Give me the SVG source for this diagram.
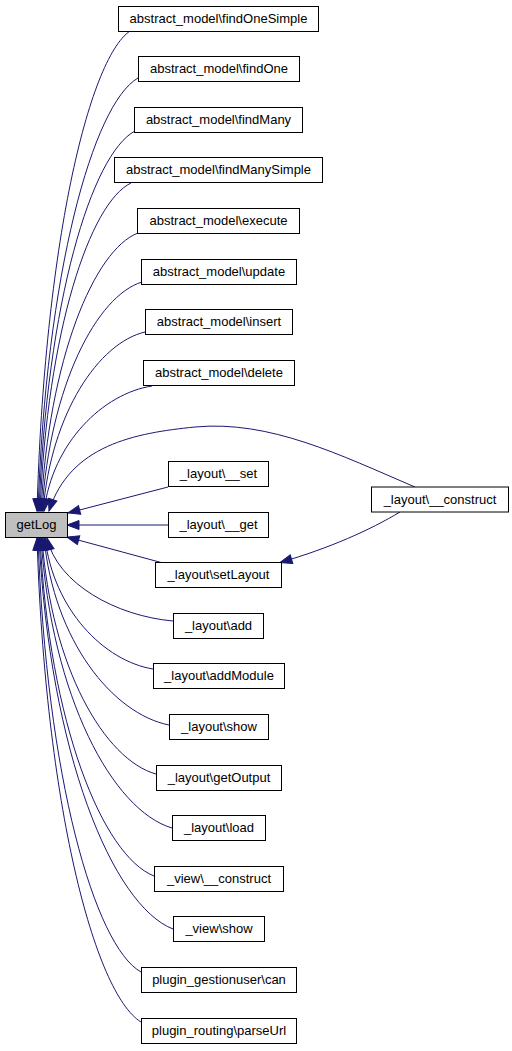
<svg xmlns="http://www.w3.org/2000/svg" width="512" height="1051" viewBox="0 0 512 1051">
<style>
.n rect{fill:#fff;stroke:#000;stroke-width:1}
.n text{font-family:"Liberation Sans",Arial,sans-serif;font-size:13px;text-anchor:middle;fill:#000}
#getLog rect{fill:#bfbfbf}
.e path{fill:none;stroke:#191970;stroke-width:1;marker-end:url(#ah)}
</style>
<defs>
<marker id="ah" markerWidth="13" markerHeight="10" refX="12" refY="4.5" orient="auto" markerUnits="userSpaceOnUse" overflow="visible">
<path d="M0,0 L12,4.5 L0,9 z" fill="#191970" stroke="#191970" stroke-width="1"/>
</marker>
</defs>
<rect width="512" height="1051" fill="#fff"/>
<g id="connectors" class="e">
<path d="M130,31 C88.2,59.8 44.4,247 37,511"/>
<path d="M138,78 C93,104 46,272.9 38,511"/>
<path d="M135,131 C91.8,153.8 46.7,302 39,511"/>
<path d="M131,183 C90,202.7 47.3,330.6 40,511"/>
<path d="M138,233 C94.4,249.7 48.8,358.1 41,511"/>
<path d="M142,282 C97,295.7 50,385 42,511"/>
<path d="M145,332 C99.1,342.7 51.2,412.5 43,511"/>
<path d="M152,386 C103.4,393.5 52.6,442.3 44,511"/>
<path d="M415,487 C340,455 270,420 195,427 C135,433 70,445 49,511"/>
<path d="M168,487 L68,513"/>
<path d="M168,525 L67,525"/>
<path d="M163,563 L67,537"/>
<path d="M173,621 C116.3,616 57.1,583.7 47,538"/>
<path d="M153,669 C104.4,661.1 53.6,610 45,538"/>
<path d="M169,725 C112.75,713.8 54,640.9 44,538"/>
<path d="M156,774 C104.7,759.8 51.1,667.8 42,538"/>
<path d="M172,828 C113,810.6 51.5,697.5 41,538"/>
<path d="M154,876 C102.7,855.7 49.1,723.9 40,538"/>
<path d="M173,929 C112.7,905.5 49.7,753 39,538"/>
<path d="M141,972 C94.65,946 46.2,776.7 38,538"/>
<path d="M141,1022 C94.2,993 45.3,804.2 37,538"/>
<path d="M400,512 C370,530 330,548 280,562.5"/>
</g>
<g id="getLog" class="n"><rect x="5.5" y="512.5" width="62" height="25"/><text x="36.5" y="529">getLog</text></g>
<g id="layout_construct" class="n"><rect x="371.5" y="487" width="137" height="25"/><text x="440" y="503.5">_layout\__construct</text></g>
<g id="findOneSimple" class="n"><rect x="118.5" y="6.5" width="200" height="25"/><text x="218.5" y="23">abstract_model\findOneSimple</text></g>
<g id="findOne" class="n"><rect x="138.5" y="56.5" width="161" height="25"/><text x="219" y="73">abstract_model\findOne</text></g>
<g id="findMany" class="n"><rect x="134.5" y="107.5" width="168" height="25"/><text x="218.5" y="124">abstract_model\findMany</text></g>
<g id="findManySimple" class="n"><rect x="114.5" y="157.5" width="208" height="25"/><text x="218.5" y="174">abstract_model\findManySimple</text></g>
<g id="execute" class="n"><rect x="137.5" y="208.5" width="162" height="25"/><text x="218.5" y="225">abstract_model\execute</text></g>
<g id="update" class="n"><rect x="141.5" y="259.5" width="155" height="25"/><text x="219" y="276">abstract_model\update</text></g>
<g id="insert" class="n"><rect x="145.5" y="309.5" width="147" height="25"/><text x="219" y="326">abstract_model\insert</text></g>
<g id="delete" class="n"><rect x="143.5" y="360.5" width="151" height="25"/><text x="219" y="377">abstract_model\delete</text></g>
<g id="layout_set" class="n"><rect x="168.5" y="461.5" width="100" height="25"/><text x="218.5" y="478">_layout\__set</text></g>
<g id="layout_get" class="n"><rect x="168.5" y="512.5" width="100" height="25"/><text x="218.5" y="529">_layout\__get</text></g>
<g id="setLayout" class="n"><rect x="155.5" y="562.5" width="126" height="25"/><text x="218.5" y="579">_layout\setLayout</text></g>
<g id="layout_add" class="n"><rect x="173.5" y="613.5" width="90" height="25"/><text x="218.5" y="630">_layout\add</text></g>
<g id="addModule" class="n"><rect x="153.5" y="663.5" width="131" height="25"/><text x="219" y="680">_layout\addModule</text></g>
<g id="layout_show" class="n"><rect x="169.5" y="714.5" width="99" height="25"/><text x="219" y="731">_layout\show</text></g>
<g id="getOutput" class="n"><rect x="156.5" y="765.5" width="125" height="25"/><text x="219" y="782">_layout\getOutput</text></g>
<g id="layout_load" class="n"><rect x="172.5" y="815.5" width="93" height="25"/><text x="219" y="832">_layout\load</text></g>
<g id="view_construct" class="n"><rect x="154.5" y="866.5" width="129" height="25"/><text x="219" y="883">_view\__construct</text></g>
<g id="view_show" class="n"><rect x="173.5" y="916.5" width="91" height="25"/><text x="219" y="933">_view\show</text></g>
<g id="gestionuser_can" class="n"><rect x="141.5" y="967.5" width="155" height="25"/><text x="219" y="984">plugin_gestionuser\can</text></g>
<g id="routing_parseUrl" class="n"><rect x="141.5" y="1018.5" width="155" height="25"/><text x="219" y="1035">plugin_routing\parseUrl</text></g>
</svg>
